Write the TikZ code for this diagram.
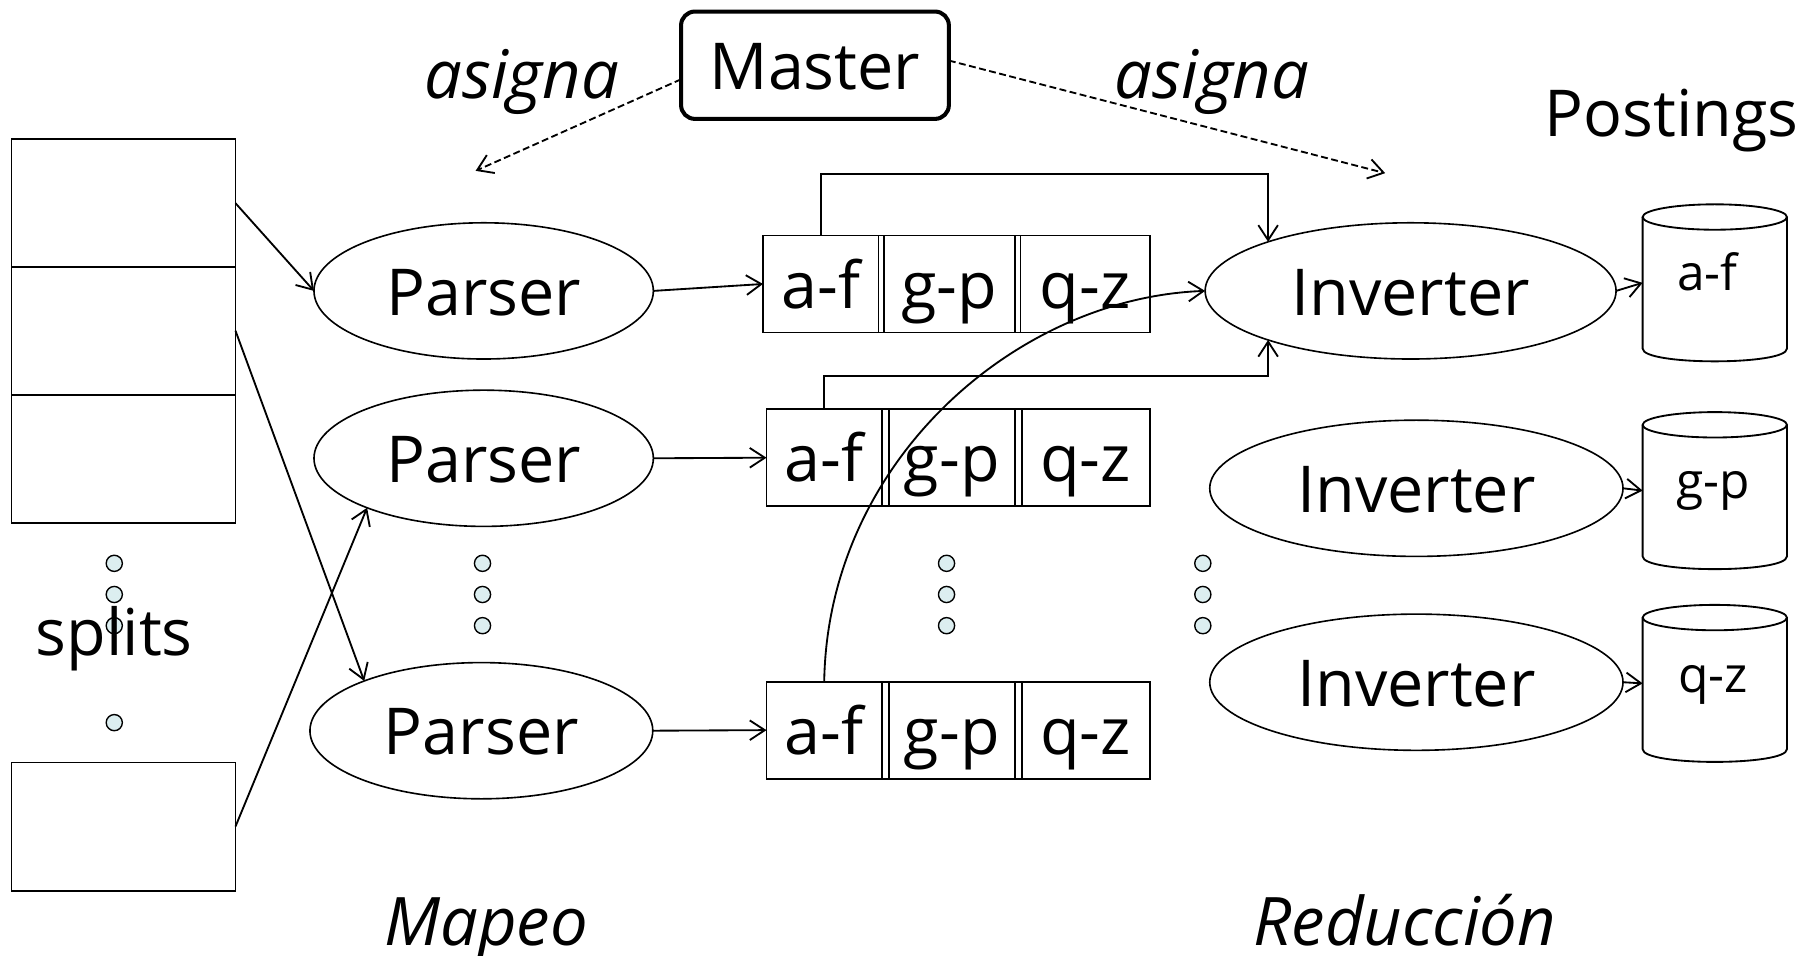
\documentclass[tikz,border=0pt]{standalone}
\usepackage{fontspec}
\setmainfont{Open Sans}
\usetikzlibrary{shapes.geometric, arrows.meta}
\definecolor{dotfill}{HTML}{DCEEF0}
\begin{document}
\begin{tikzpicture}[x=1pt, y=-1pt,
  every node/.style={font=\fontsize{56}{60}\selectfont, inner sep=0pt, outer sep=0pt},
  split/.style={draw, line width=1.6pt, minimum width=194pt, minimum height=111pt},
  worker/.style={ellipse, draw, line width=1.4pt, minimum height=118pt, text height=42pt, text depth=0pt},
  rowbox/.style={draw, line width=1.6pt, minimum height=84pt},
  cell/.style={draw, line width=1.6pt, minimum height=84pt, text height=42pt, text depth=0pt},
  dot/.style={circle, draw, fill=dotfill, line width=1.2pt, minimum size=14pt},
  conn/.style={line width=1.6pt, -{Straight Barb[length=13pt, width=17pt, line width=1.6pt]}},
  dconn/.style={conn, dash pattern=on 6pt off 3pt},
  lbl/.style={anchor=base},
  ilbl/.style={anchor=base, font=\fontsize{58}{60}\selectfont\itshape},
  cyllbl/.style={anchor=base, font=\fontsize{43}{44}\selectfont},
  disk/.style={line width=1.6pt}
]
\useasboundingbox (0,0) rectangle (1568,828);

% input splits
\node[split] (s1) at (107,176) {};
\node[split] (s2) at (107,286.5) {};
\node[split] (s3) at (107,397.5) {};
\node[split] (s4) at (107,716) {};
\node[dot] (sd1) at (99,488) {};
\node[dot] (sd2) at (99,515) {};
\node[dot] (sd3) at (99,542) {};
\node[dot] (sd4) at (99,626) {};
\node[lbl] (splits) at (99,568) {splits};

% parsers
\node[worker, minimum width=294pt] (p1) at (419,252) {Parser};
\node[worker, minimum width=294pt] (p2) at (419,397) {Parser};
\node[worker, minimum width=297pt] (p3) at (417,633) {Parser};
\node[dot] (pd1) at (418,488) {};
\node[dot] (pd2) at (418,515) {};
\node[dot] (pd3) at (418,542) {};

% segmented partition files
\node[rowbox, minimum width=335pt] (r1) at (828.5,246) {};
\node[cell, minimum width=100pt] (c11) at (711,246) {a-f};
\node[cell, minimum width=113pt] (c12) at (822.5,246) {g-p};
\node[cell, minimum width=112pt] (c13) at (940,246) {q-z};

\node[rowbox, minimum width=332pt] (r2) at (830,396.5) {};
\node[cell, minimum width=100pt] (c21) at (714,396.5) {a-f};
\node[cell, minimum width=109pt] (c22) at (824.5,396.5) {g-p};
\node[cell, minimum width=111pt] (c23) at (940.5,396.5) {q-z};

\node[rowbox, minimum width=332pt] (r3) at (830,632.5) {};
\node[cell, minimum width=100pt] (c31) at (714,632.5) {a-f};
\node[cell, minimum width=109pt] (c32) at (824.5,632.5) {g-p};
\node[cell, minimum width=111pt] (c33) at (940.5,632.5) {q-z};

\node[dot] (rd1) at (820,488) {};
\node[dot] (rd2) at (820,515) {};
\node[dot] (rd3) at (820,542) {};

% inverters
\node[worker, minimum width=356pt] (i1) at (1222,252) {Inverter};
\node[worker, minimum width=358pt] (i2) at (1227,423) {Inverter};
\node[worker, minimum width=358pt] (i3) at (1227,591) {Inverter};
\node[dot] (id1) at (1042,488) {};
\node[dot] (id2) at (1042,515) {};
\node[dot] (id3) at (1042,542) {};

% postings on disk
\foreach \n/\cy in {1/245, 2/425, 3/592}{
  \node[minimum width=125pt, minimum height=136pt] (cyl\n) at (1485.5,\cy) {};
  \draw[disk] (1485.5,\cy-57) ellipse (62.5 and 11);
  \draw[disk] (1423,\cy-57) -- (1423,\cy+57)
    .. controls (1423,\cy+71.7) and (1548,\cy+71.7) .. (1548,\cy+57) -- (1548,\cy-57);
}
\node[cyllbl] (t1) at (1479,252) {a-f};
\node[cyllbl] (t2) at (1484,432) {g-p};
\node[cyllbl] (t3) at (1484,600) {q-z};

% master
\node[draw, rounded corners=12pt, line width=3.5pt, minimum width=232pt, minimum height=93pt,
      text height=42pt, text depth=0pt] (m) at (706,56.5) {Master};
\coordinate (mapgoal) at (412,148);
\coordinate (redgoal) at (1200,150);
\draw[dconn] (m.186) -- (mapgoal);
\draw[dconn] (m.2) -- (redgoal);

% connectors
\draw[conn] (s1.east) -- (p1.west);
\draw[conn] (s2.east) -- (p3.157);
\draw[conn] (s4.east) -- (p2.203);
\draw[conn] (p1.east) -- (r1.west);
\draw[conn] (p2.east) -- (r2.west);
\draw[conn] (p3.east) -- (r3.west);
\draw[conn] (c11.north) -- ++(0,-53) -| (i1.161);
\draw[conn] (c21.north) -- ++(0,-29) -| (i1.199);
\draw[conn] (c31.north) .. controls (717,400) and (880,258) .. (i1.west);
\draw[conn] (i1.east) -- (cyl1.west);
\draw[conn] (i2.east) -- (cyl2.west);
\draw[conn] (i3.east) -- (cyl3.west);

% captions
\node[ilbl] (a1) at (452,85) {asigna};
\node[ilbl] (a2) at (1050,85) {asigna};
\node[lbl] (post) at (1448,118) {Postings};
\node[ilbl] (map) at (421,819) {Mapeo};
\node[ilbl] (red) at (1217,819) {Reducción};
\end{tikzpicture}
\end{document}
